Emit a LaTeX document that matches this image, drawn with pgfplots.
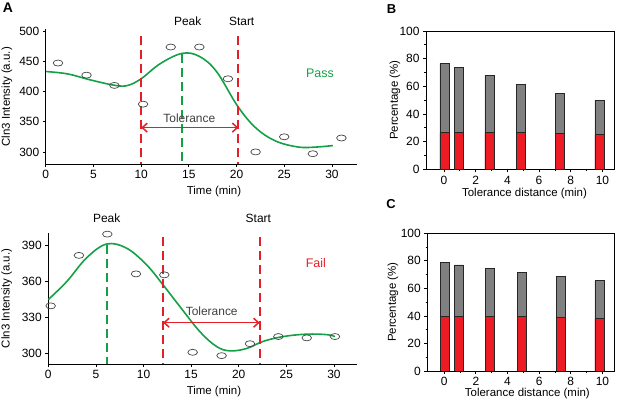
\documentclass[border=0pt]{standalone}
\usepackage{pgfplots}
\pgfplotsset{compat=1.18}
\usepackage{fontspec}
\setmainfont{Liberation Sans}
\usetikzlibrary{arrows.meta}
\definecolor{cgreen}{RGB}{20,160,70}
\definecolor{cred}{RGB}{230,30,40}
\definecolor{bred}{RGB}{237,28,36}
\definecolor{bgray}{RGB}{128,128,128}
\definecolor{cgray}{RGB}{70,70,70}
\pgfplotsset{
  every axis/.append style={
    scale only axis,
    /pgf/number format/assume math mode=true,
    tick label style={font=\fontsize{12}{14}\selectfont},
    label style={font=\fontsize{11.5}{13}\selectfont},
    axis line style={line width=0.8bp, black},
    tick style={line width=0.8bp, black},
    tick align=outside,
    major tick length=3bp,
    minor tick length=1.8bp,
  },
  panelA/.style={
    axis lines*=left,
    xtick={0,5,...,30},
    xlabel={Time (min)},
    ylabel={Cln3 Intensity (a.u.)},
    clip=false,
  },
  panelB/.style={
    xmin=-1.136, xmax=10.73, ymin=0, ymax=100,
    xtick={0,2,...,10}, ytick={0,20,...,100},
    minor x tick num=1, minor y tick num=1,
    tick pos=left,
    xticklabel style={inner sep=1bp, yshift=-2.3bp},
    xlabel={Tolerance distance (min)},
    ylabel={Percentage (\%)},
    label style={inner sep=0.5bp},
  },
  circ/.style={only marks, mark=o, mark size=3bp, mark options={cgray, line width=0.7bp, xscale=1.6}},
  curve/.style={cgreen, line width=1.6bp, smooth, tension=0.6},
  rdash/.style={cred, line width=2bp, dash pattern=on 9bp off 5bp},
  gdash/.style={cgreen, line width=2bp, dash pattern=on 9bp off 5bp},
  tol/.style={cred, line width=1.5bp, {Straight Barb[length=5bp,width=9bp]}-{Straight Barb[length=5bp,width=9bp]}},
  gbar/.style={ybar, bar width=9bp, bar shift=0pt, fill=bgray, draw=black!85, line width=0.6bp},
  rbar/.style={ybar, bar width=9bp, bar shift=0pt, fill=bred, draw=black!85, line width=0.6bp},
}
\begin{document}
\begin{tikzpicture}
\useasboundingbox (0,0) rectangle (617bp,403bp);
\node[font=\bfseries\fontsize{14}{14}\selectfont] at (8bp,395bp) {A};
\node[font=\bfseries\fontsize{13}{13}\selectfont] at (391.5bp,393.5bp) {B};
\node[font=\bfseries\fontsize{13}{13}\selectfont] at (391bp,199bp) {C};

% ---------- A top (Pass)
\begin{axis}[panelA,
  at={(45.8bp,239bp)}, anchor=south west,
  width=310.9bp, height=134.5bp,
  xmin=0, xmax=32.6, ymin=280, ymax=502.5,
  ytick={300,350,...,500},
  xlabel style={at={(axis description cs:0.541,-0.206)}, anchor=center},
  ylabel style={at={(axis description cs:-0.125,0.5)}, anchor=center},
]
\addplot[circ] coordinates {(1.28,447) (4.27,427) (7.2,410) (10.2,379) (13.1,473.5) (16.1,473.5) (19.1,421) (22.0,300) (25.0,325) (28.0,297) (31.0,323)};
\addplot[curve] coordinates {(0,433) (2.3,429) (4.7,419) (7.3,410) (8.6,410) (10,421) (12,446) (14.3,463) (16.1,458) (17.9,433) (20.1,376) (22,340) (24.1,318) (26.5,308) (28.3,308) (30.1,310.5)};
\addplot[gdash] coordinates {(14.3,462) (14.3,280)};
\addplot[rdash] coordinates {(10,491) (10,280)};
\addplot[rdash] coordinates {(20.2,491) (20.2,280)};
\addplot[tol] coordinates {(10,340.2) (20.2,340.2)};
\node[font=\fontsize{12}{14}\selectfont] at (axis cs:14.88,515.4) {Peak};
\node[font=\fontsize{12}{14}\selectfont] at (axis cs:20.54,515.4) {Start};
\node[font=\fontsize{12}{14}\selectfont, text=black!75] at (axis cs:15.05,355.7) {Tolerance};
\node[font=\fontsize{12.5}{14}\selectfont, text=cgreen] at (axis cs:28.75,430) {Pass};
\end{axis}

% ---------- A bottom (Fail)
\begin{axis}[panelA,
  at={(48.3bp,39bp)}, anchor=south west,
  width=309bp, height=131.3bp,
  xmin=0, xmax=32.45, ymin=291, ymax=401,
  ytick={300,330,...,390},
  xlabel style={at={(axis description cs:0.536,-0.211)}, anchor=center},
  ylabel style={at={(axis description cs:-0.135,0.5)}, anchor=center},
]
\addplot[circ] coordinates {(0.25,339.7) (3.22,382) (6.2,399.8) (9.21,366.5) (12.18,365.7) (15.16,300.8) (18.2,298) (21.18,308) (24.16,314) (27.14,312.9) (30.1,314)};
\addplot[curve] coordinates {(0,345) (1.93,360) (4.03,380) (6.13,391.5) (8.23,388) (10.33,374) (12.08,357) (13.83,339) (15.93,318) (17.68,305.6) (19.08,302) (20.83,304) (22.58,310) (24.68,314) (27.14,316) (29.24,315.6) (30.1,314)};
\addplot[gdash] coordinates {(6.2,391) (6.2,291)};
\addplot[rdash] coordinates {(12.05,397.8) (12.05,291)};
\addplot[rdash] coordinates {(22.2,397.8) (22.2,291)};
\addplot[tol] coordinates {(12.05,325.6) (22.2,325.6)};
\node[font=\fontsize{12}{14}\selectfont] at (axis cs:6.13,413.1) {Peak};
\node[font=\fontsize{12}{14}\selectfont] at (axis cs:22.06,413.1) {Start};
\node[font=\fontsize{12}{14}\selectfont, text=black!75] at (axis cs:17.16,334.8) {Tolerance};
\node[font=\fontsize{12.5}{14}\selectfont, text=cred] at (axis cs:28.1,375.3) {Fail};
\end{axis}

% ---------- B
\begin{axis}[panelB,
  at={(426bp,233.7bp)}, anchor=south west,
  width=188bp, height=138.3bp,
  xlabel style={at={(axis description cs:0.524,-0.1735)}, anchor=center},
  ylabel style={at={(axis description cs:-0.165,0.5)}, anchor=center},
]
\addplot[gbar] coordinates {(0.03,76.6) (0.92,73.5) (2.87,68) (4.86,61.2) (7.32,55) (9.81,50.1)};
\addplot[rbar] coordinates {(0.03,26.5) (0.92,26.5) (2.87,26.5) (4.86,26.5) (7.32,26) (9.81,25)};
\end{axis}

% ---------- C
\begin{axis}[panelB,
  at={(427.3bp,32bp)}, anchor=south west,
  width=186.7bp, height=137.7bp,
  xmin=-1.07,
  xlabel style={at={(axis description cs:0.536,-0.167)}, anchor=center},
  ylabel style={at={(axis description cs:-0.184,0.5)}, anchor=center},
]
\addplot[gbar] coordinates {(0.06,78.9) (0.94,77) (2.9,74.6) (4.9,71.7) (7.35,68.8) (9.81,65.6)};
\addplot[rbar] coordinates {(0.06,39.5) (0.94,39.5) (2.9,39.5) (4.9,39.5) (7.35,38.7) (9.81,38.3)};
\end{axis}
\end{tikzpicture}
\end{document}
